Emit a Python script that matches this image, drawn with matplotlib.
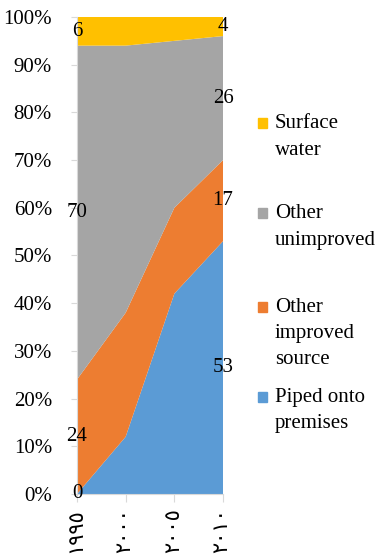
import numpy as np
import matplotlib.pyplot as plt
from matplotlib.patches import Rectangle

years = ['١٩٩٥', '٢٠٠٠', '٢٠٠٥', '٢٠١٠']
piped = [0, 12, 42, 53]
other_improved = [24, 26, 18, 17]
other_unimproved = [70, 56, 35, 26]
surface = [6, 6, 5, 4]

series_names = ['Piped onto\npremises', 'Other\nimproved\nsource',
                'Other\nunimproved', 'Surface\nwater']
colors = ['#5B9BD5', '#ED7D31', '#A5A5A5', '#FFC000']

serif = ['Liberation Serif', 'DejaVu Sans']
fs = 15

W, H = 385, 554
fig = plt.figure(figsize=(W / 100, H / 100), dpi=100)
ax = fig.add_axes([77 / W, 60 / H, 146 / W, 477 / H])

x = np.arange(len(years))
stack = np.array([piped, other_improved, other_unimproved, surface], dtype=float)
ax.stackplot(x, stack, colors=colors, linewidth=0)

ax.set_xlim(0, len(years) - 1)
ax.set_ylim(0, 100)
ax.set_yticks(range(0, 101, 10))
ax.set_yticklabels([f'{v}%' for v in range(0, 101, 10)], fontsize=fs, family=serif)
ax.set_xticks(x)
ax.set_xticklabels(years, rotation=90, fontsize=fs, family=serif)

for side in ['top', 'right']:
    ax.spines[side].set_visible(False)
for side in ['left', 'bottom']:
    ax.spines[side].set_color('#d9d9d9')
ax.tick_params(axis='y', length=4, color='#d9d9d9', pad=14)
ax.tick_params(axis='x', length=6, color='#d9d9d9', pad=4)

# value labels at the first and last year, centred in each band
cum = np.cumsum(stack, axis=0)
for i in range(stack.shape[0]):
    for j in [0, len(years) - 1]:
        mid = cum[i, j] - stack[i, j] / 2
        ax.text(x[j], mid, f'{int(stack[i, j])}', ha='center', va='center',
                fontsize=fs, family=serif, clip_on=False)

# legend, top entry first; baselines of each text line in pixels
legend_rows = [[128, 155], [218, 245], [312, 338, 364], [402, 428]]
for name, col, rows in zip(series_names[::-1], colors[::-1], legend_rows):
    fig.patches.append(Rectangle((258 / W, 1 - (rows[0]) / H), 9 / W, 10 / H,
                                 transform=fig.transFigure, color=col))
    for line, yb in zip(name.split('\n'), rows):
        fig.text(275 / W, 1 - yb / H, line, ha='left', va='baseline',
                 fontsize=fs, family=serif)

fig.savefig('out.png', dpi=100)
